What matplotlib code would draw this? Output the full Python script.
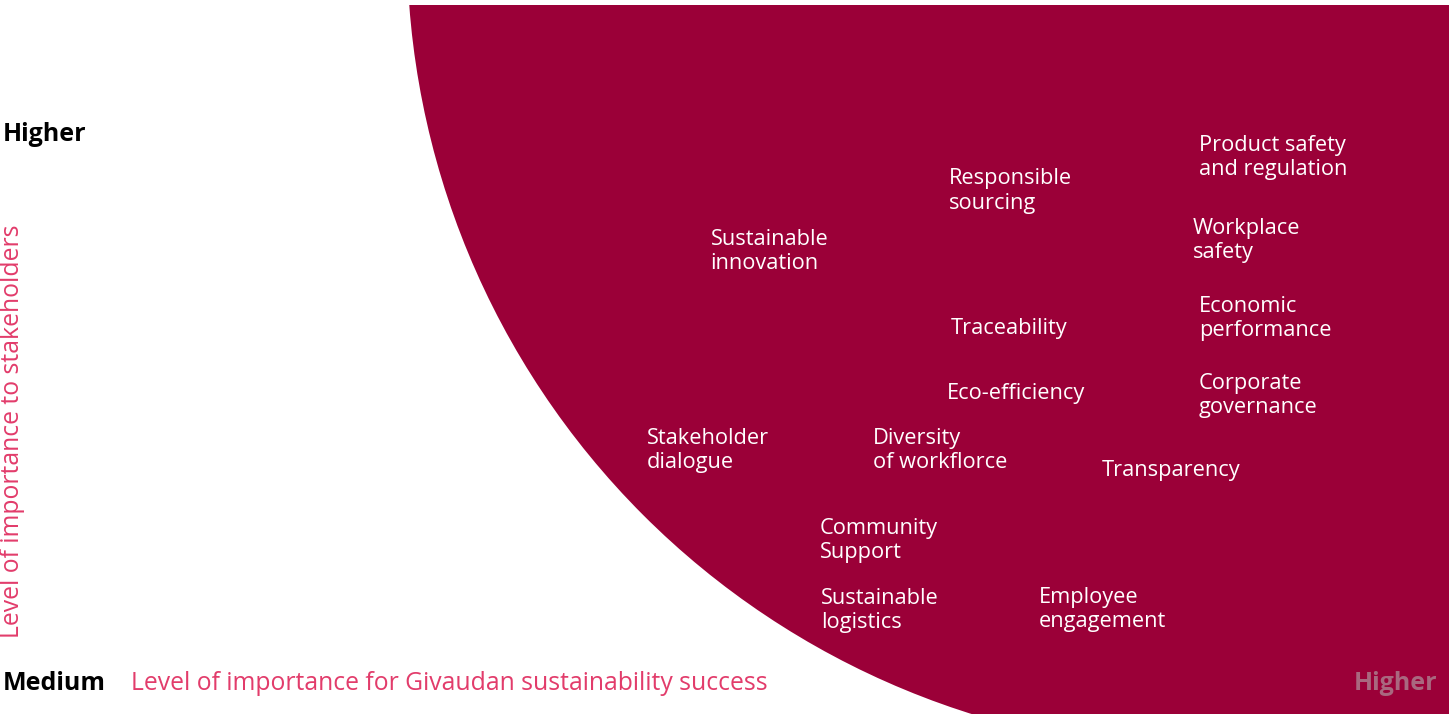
import matplotlib
matplotlib.use("Agg")
import matplotlib.pyplot as plt
from matplotlib.patches import Circle, Rectangle

# materiality topics, scores (0-100 on both axes)
topics = ["Product safety\nand regulation", "Responsible\nsourcing", "Workplace\nsafety",
          "Sustainable\ninnovation", "Economic\nperformance", "Traceability",
          "Eco-efficiency", "Corporate\ngovernance", "Stakeholder\ndialogue",
          "Diversity\nof workflorce", "Transparency", "Community\nSupport",
          "Sustainable\nlogistics", "Employee\nengagement"]
givaudan = [82.5, 65.3, 82.1, 48.9, 82.5, 65.4, 65.2, 82.5, 44.5, 60.1, 75.8, 56.4, 56.5, 71.5]
stakeholders = [78.1, 73.4, 66.5, 65.0, 55.6, 54.3, 45.2, 44.9, 37.3, 37.3, 34.5, 24.7, 15.0, 15.1]

crimson = "#9b0038"
pink = "#e23c6b"

plt.rcParams['font.family'] = ['Open Sans', 'DejaVu Sans']

fig = plt.figure(figsize=(14.53, 7.18), dpi=100)
ax = fig.add_axes([0, 0, 1, 1])
ax.set_xlim(0, 100)
ax.set_ylim(0, 100)
ax.axis('off')

# the "high materiality" zone: a big circle cut to the plot rectangle
sx, sy = 100 / 1453, 100 / 718
box = Rectangle((409 * sx, 4 * sy), 1040 * sx, 709 * sy, transform=ax.transData,
                facecolor='none', edgecolor='none')
ax.add_patch(box)
zone = Circle((0, 0), 806, facecolor=crimson, edgecolor='none',
              transform=matplotlib.transforms.Affine2D().translate(1213, 718 + 55)
              + matplotlib.transforms.Affine2D().scale(sx, sy) + ax.transData)
ax.add_patch(zone)
zone.set_clip_path(box)

for name, gx, st in zip(topics, givaudan, stakeholders):
    ax.text(gx, st, name, color='white', fontsize=15.7, ha='left', va='center',
            linespacing=1.2)

ax.text(0.2, 81.3, "Higher", fontsize=18, fontweight='bold', color='black', va='center')
ax.text(0.2, 4.85, "Medium", fontsize=18, fontweight='bold', color='black', va='center')
ax.text(9.0, 4.85, "Level of importance for Givaudan sustainability success",
        fontsize=17.8, color=pink, va='center')
ax.text(0.85, 40.0, "Level of importance to stakeholders", fontsize=17.8, color=pink,
        rotation=90, ha='center', va='center')
ax.text(98.9, 4.85, "Higher", fontsize=18, fontweight='bold', color='#a9687f',
        ha='right', va='center')

fig.savefig("out.png", dpi=100)
